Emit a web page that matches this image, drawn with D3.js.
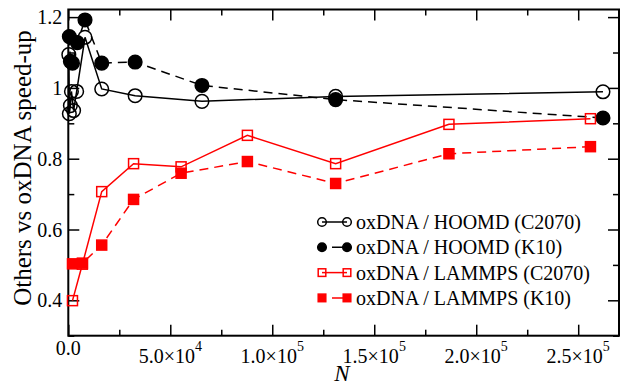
<!DOCTYPE html>
<html>
<head>
<meta charset="utf-8">
<script src="https://cdn.jsdelivr.net/npm/d3@7"></script>
</head>
<body style="margin:0;background:#fff">
<svg id="chart" width="630" height="385"></svg>
<script>
// HOOMD sizes / speed-ups
const hoomdC2070N = [256, 512, 1024, 1536, 2600, 4096, 8192, 16384, 32768, 65536, 131072, 262144];
const hoomdC2070 = [1.094, 0.927, 0.95, 0.99, 0.936, 0.99, 1.143, 0.997, 0.978, 0.962, 0.976, 0.989];

const hoomdK10N = [512, 1024, 2048, 4400, 8192, 16384, 32768, 65536, 131072, 262144];
const hoomdK10 = [1.145, 1.075, 1.07, 1.128, 1.192, 1.07, 1.073, 1.007, 0.967, 0.915];

// LAMMPS sizes
const lammpsN = [2048, 6912, 16384, 32000, 55296, 87808, 131072, 186624, 256000];
const lammpsC2070 = [0.399, 0.502, 0.707, 0.786, 0.777, 0.866, 0.786, 0.897, 0.913];
const lammpsK10 = [0.503, 0.505, 0.556, 0.685, 0.759, 0.792, 0.73, 0.814, 0.834];

const xTicks = [0, 50000, 100000, 150000, 200000, 250000];
const yTicks = [0.4, 0.6, 0.8, 1.0, 1.2];

const series = [
  { label: 'oxDNA / HOOMD (C2070)', n: hoomdC2070N, v: hoomdC2070, shape: 'circle', filled: false, color: '#000', dash: null },
  { label: 'oxDNA / HOOMD (K10)', n: hoomdK10N, v: hoomdK10, shape: 'circle', filled: true, color: '#000', dash: '9,6' },
  { label: 'oxDNA / LAMMPS (C2070)', n: lammpsN, v: lammpsC2070, shape: 'square', filled: false, color: '#ff0000', dash: null },
  { label: 'oxDNA / LAMMPS (K10)', n: lammpsN, v: lammpsK10, shape: 'square', filled: true, color: '#ff0000', dash: '9,6' }
];

const svg = d3.select('#chart');
const pL = 68.3, pR = 619, pT = 9.5, pB = 335.7;

const x = d3.scaleLinear().domain([0, 270000]).range([pL, pR]);
const y = d3.scaleLinear().domain([0.3, 1.2215]).range([pB, pT]);

const MAJOR = 11, MINOR = 6;

// ticks (inward, on all four sides)
const xMinor = d3.range(25000, 270000, 50000);
const yMinor = [0.3, 0.5, 0.7, 0.9, 1.1];

function tickAxis(axisFn, scale, vals, size, tr) {
  svg.append('g')
    .attr('transform', tr)
    .call(axisFn(scale).tickValues(vals).tickSize(size).tickFormat(''))
    .call(g => g.select('.domain').remove())
    .call(g => g.selectAll('line').attr('stroke', '#000').attr('stroke-width', 1.5));
}
tickAxis(d3.axisBottom, x, xTicks, -MAJOR, `translate(0,${pB})`);
tickAxis(d3.axisBottom, x, xMinor, -MINOR, `translate(0,${pB})`);
tickAxis(d3.axisTop, x, xTicks, -MAJOR, `translate(0,${pT})`);
tickAxis(d3.axisTop, x, xMinor, -MINOR, `translate(0,${pT})`);
tickAxis(d3.axisLeft, y, yTicks, -MAJOR, `translate(${pL},0)`);
tickAxis(d3.axisLeft, y, yMinor, -MINOR, `translate(${pL},0)`);
tickAxis(d3.axisRight, y, yTicks, -MAJOR, `translate(${pR},0)`);
tickAxis(d3.axisRight, y, yMinor, -MINOR, `translate(${pR},0)`);

// frame
svg.append('rect')
  .attr('x', pL).attr('y', pT)
  .attr('width', pR - pL).attr('height', pB - pT)
  .attr('fill', 'none').attr('stroke', '#000').attr('stroke-width', 2);

// y tick labels
svg.append('g').selectAll('text')
  .data(yTicks)
  .enter().append('text')
  .attr('x', pL - 6)
  .attr('y', d => y(d))
  .attr('dy', '0.35em')
  .attr('text-anchor', 'end')
  .attr('font-size', 20)
  .text(d => d === 1 ? '1' : d3.format('.1f')(d));

// x tick labels with superscripts
const xl = svg.append('g').selectAll('text')
  .data(xTicks)
  .enter().append('text')
  .attr('x', d => x(d))
  .attr('y', d => d === 0 ? 355 : 362.7)
  .attr('text-anchor', 'middle')
  .attr('font-size', 20);
xl.each(function (d) {
  const t = d3.select(this);
  if (d === 0) { t.text('0.0'); return; }
  const e = Math.floor(Math.log10(d));
  const m = d / Math.pow(10, e);
  t.append('tspan').text(m.toFixed(1) + '\u00d710');
  t.append('tspan').attr('dy', -12).attr('font-size', 14).text(e);
});

// axis titles
svg.append('text')
  .attr('x', 342)
  .attr('y', 381)
  .attr('text-anchor', 'middle')
  .attr('font-size', 23)
  .attr('font-style', 'italic')
  .text('N');

svg.append('text')
  .attr('transform', `translate(31,168) rotate(-90)`)
  .attr('text-anchor', 'middle')
  .attr('font-size', 25)
  .text('Others vs oxDNA speed-up');

// series
const line = d3.line().x(d => x(d[0])).y(d => y(d[1]));

function marker(sel, s, size) {
  if (s.shape === 'circle') {
    sel.append('circle').attr('r', size)
      .attr('fill', s.filled ? s.color : 'none')
      .attr('stroke', s.color).attr('stroke-width', 1.5);
  } else {
    sel.append('rect')
      .attr('x', -size).attr('y', -size)
      .attr('width', 2 * size).attr('height', 2 * size)
      .attr('fill', s.filled ? s.color : 'none')
      .attr('stroke', s.color).attr('stroke-width', 1.5);
  }
}

series.forEach(s => {
  const pts = s.n.map((n, i) => [n, s.v[i]]);
  svg.append('path')
    .datum(pts)
    .attr('d', line)
    .attr('fill', 'none')
    .attr('stroke', s.color)
    .attr('stroke-width', 1.5)
    .attr('stroke-dasharray', s.dash);
  svg.append('g').selectAll('g')
    .data(pts)
    .enter().append('g')
    .attr('transform', d => `translate(${x(d[0])},${y(d[1])})`)
    .each(function () { marker(d3.select(this), s, s.shape === 'circle' ? 6.8 : 5); });
});

// legend
const lg = svg.append('g');
series.forEach((s, i) => {
  const ly = 222 + i * 25.3;
  const row = lg.append('g').attr('transform', `translate(0,${ly})`);
  row.append('line')
    .attr('x1', 322).attr('x2', 347)
    .attr('stroke', s.color).attr('stroke-width', 1.5)
    .attr('stroke-dasharray', s.dash ? '4,6,20' : null);
  [322, 347].forEach(cx => {
    const m = row.append('g').attr('transform', `translate(${cx},0)`);
    marker(m, s, s.shape === 'circle' ? 4.3 : 3.8);
  });
  row.append('text')
    .attr('x', 356)
    .attr('dy', '0.35em')
    .attr('font-size', 20)
    .text(s.label);
});

// serif font on every text element
svg.selectAll('text')
  .attr('font-family', '"Times New Roman", Tinos, serif')
  .style('font-family', '"Times New Roman", Tinos, serif');
</script>
</body>
</html>
